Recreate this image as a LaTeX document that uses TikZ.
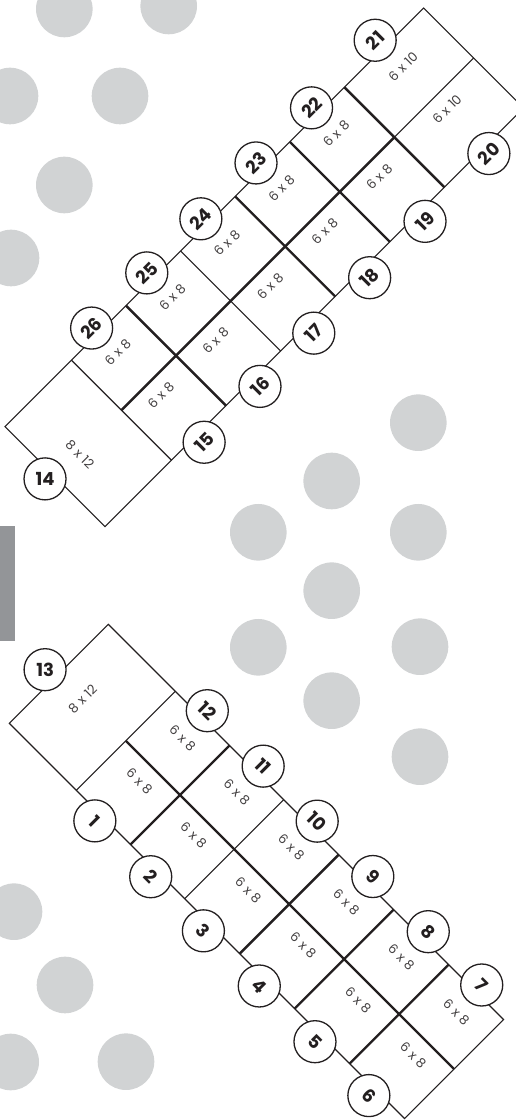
\documentclass[tikz,border=0pt]{standalone}
\usepackage{fontspec}
\setmainfont{Poppins}
\definecolor{dotgray}{HTML}{D1D3D4}
\definecolor{bargray}{HTML}{939598}
\definecolor{ink}{HTML}{231F20}
\newcommand{\sizelbl}[2]{#1\hspace{4pt}x\hspace{4pt}#2}
\tikzset{
  thinln/.style={draw=ink, line width=1.1pt},
  thickln/.style={draw=ink, line width=2.4pt},
  num/.style={circle, draw=ink, line width=1.3pt, fill=white, minimum size=42pt, inner sep=0pt,
    text=ink, font=\fontsize{18}{18}\selectfont\bfseries},
  lbl/.style={inner sep=0pt, text=ink!85, font=\fontsize{13}{13}\selectfont},
}
\begin{document}
\begin{tikzpicture}[x=1pt,y=1pt]
\clip (0,0) rectangle (516,1120);
\fill[white] (0,0) rectangle (516,1120);
% background dots
\foreach \px/\py in {64.3/9, 168.7/6, 10/96, 120/96, 64.3/185, 11/258,
  418.3/422.7, 331.7/481, 258.3/532.3, 418.3/532.3, 331.7/590.7,
  258.3/647.3, 420/646.7, 331.7/700.7, 420/756.7,
  14/911.7, 65/985, 10.7/1062, 126/1061.7}
  \fill[dotgray] (\px,1120-\py) circle (28.3);
% side bar
\fill[bargray] (0,594) rectangle (15,479.3);

% ---------------- upper plan (14-26) ----------------
\begin{scope}[shift={(5,693.3)}, rotate=45]
  \draw[thinln] (0,0) rectangle (592,-141.4);
  \draw[thinln] (94,0) -- (94,-141.4);
  \draw[thickln] (171.2,0) -- (171.2,-141.4);
  \draw[thinln] (248.4,0) -- (248.4,-141.4);
  \draw[thickln] (325.6,0) -- (325.6,-141.4);
  \draw[thickln] (402.8,0) -- (402.8,-141.4);
  \draw[thickln] (480,0) -- (480,-141.4);
  \draw[thickln] (94,-70.7) -- (480,-70.7);
  \draw[thinln] (480,-70.7) -- (592,-70.7);
  % labels
  \node[lbl, rotate=-45] (u812) at (33.2,-72.8) {\sizelbl{8}{12}};
  \foreach \c [count=\i] in {132.6,209.8,287,364.2,441.4}{
    \node[lbl, rotate=45] (ua\i) at (\c,-27) {\sizelbl{6}{8}};
    \node[lbl, rotate=45] (ub\i) at (\c,-88) {\sizelbl{6}{8}};
  }
  \node[lbl, rotate=45] (ua6) at (536,-27) {\sizelbl{6}{10}};
  \node[lbl, rotate=45] (ub6) at (537,-88) {\sizelbl{6}{10}};
  % numbers
  \node[num] (n14) at (-8.6,-65.2) {14};
  \node[num, rotate=45] (n26) at (131,8.5) {26};
  \node[num, rotate=45] (n25) at (209,8.5) {25};
  \node[num, rotate=45] (n24) at (285.5,8.5) {24};
  \node[num, rotate=45] (n23) at (364,9) {23};
  \node[num, rotate=45] (n22) at (442.2,8.7) {22};
  \node[num, rotate=45] (n21) at (535,11.5) {21};
  \node[num, rotate=45] (n15) at (129.8,-151.8) {15};
  \node[num, rotate=45] (n16) at (208.8,-151.8) {16};
  \node[num, rotate=45] (n17) at (284.5,-152.2) {17};
  \node[num, rotate=45] (n18) at (363.2,-152.5) {18};
  \node[num, rotate=45] (n19) at (442.2,-151.8) {19};
  \node[num, rotate=45] (n20) at (535.3,-149) {20};
\end{scope}

% ---------------- lower plan (1-13) ----------------
\begin{scope}[shift={(9.3,396.7)}, rotate=-45]
  \draw[thinln] (0,0) rectangle (559,140);
  \draw[thinln] (94.8,0) -- (94.8,140);
  \draw[thickln] (171.4,0) -- (171.4,140);
  \draw[thinln] (248,0) -- (248,140);
  \draw[thickln] (325.8,0) -- (325.8,140);
  \draw[thickln] (403.5,0) -- (403.5,140);
  \draw[thickln] (481.3,0) -- (481.3,140);
  \draw[thickln] (94.8,70) -- (559,70);
  % labels
  \node[lbl, rotate=45] (l812) at (34.9,68.9) {\sizelbl{8}{12}};
  \foreach \c [count=\i] in {133.1,209.7,286.9,364.7,442.4,520.2}{
    \node[lbl, rotate=-45] (la\i) at (\c,51) {\sizelbl{6}{8}};
    \node[lbl, rotate=-45] (lb\i) at (\c,112) {\sizelbl{6}{8}};
  }
  % numbers
  \node[num] (n13) at (-12.6,63.2) {13};
  \node[num, rotate=-45] (n12) at (131.1,148.9) {12};
  \node[num, rotate=-45] (n11) at (209.8,149.2) {11};
  \node[num, rotate=-45] (n10) at (286.9,148.5) {10};
  \node[num, rotate=-45] (n9) at (365.4,148.7) {9};
  \node[num, rotate=-45] (n8) at (443.6,148.9) {8};
  \node[num, rotate=-45] (n7) at (519.1,149) {7};
  \node[num, rotate=-45] (n1) at (129.5,-8.5) {1};
  \node[num, rotate=-45] (n2) at (208.5,-8.5) {2};
  \node[num, rotate=-45] (n3) at (284,-9.5) {3};
  \node[num, rotate=-45] (n4) at (362.5,-9) {4};
  \node[num, rotate=-45] (n5) at (441.3,-9) {5};
  \node[num, rotate=-45] (n6) at (517.5,-9) {6};
\end{scope}
\end{tikzpicture}
\end{document}
